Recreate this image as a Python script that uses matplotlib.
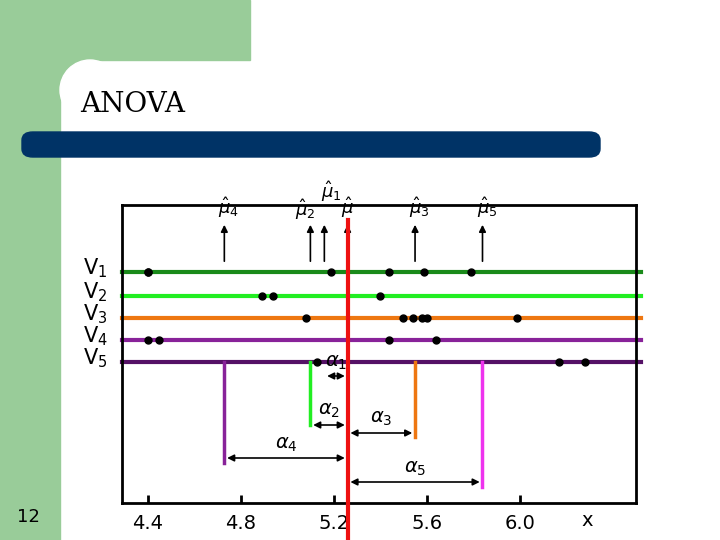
import matplotlib
matplotlib.use("Agg")
import matplotlib.pyplot as plt
from matplotlib.patches import Rectangle, FancyBboxPatch, Ellipse

# data (x values)
v1 = [4.40, 4.40, 5.19, 5.44, 5.59, 5.79]
v2 = [4.89, 4.94, 5.40]
v3 = [5.08, 5.50, 5.54, 5.58, 5.60, 5.99]
v4 = [4.40, 4.45, 5.44, 5.64]
v5 = [5.13, 6.17, 6.28]
mu_grand = 5.26
mu_groups = [5.16, 5.10, 5.55, 5.84, 4.73]  # mu1..mu5
xticks = [4.4, 4.8, 5.2, 5.6, 6.0]
xticklabels = ["4.4", "4.8", "5.2", "5.6", "6.0"]
row_labels = ["V$_1$", "V$_2$", "V$_3$", "V$_4$", "V$_5$"]

W, H = 720, 540
fig = plt.figure(figsize=(7.2, 5.4), dpi=100)
fig.patch.set_facecolor("white")
green = "#99cc99"
fig.patches.append(Rectangle((0, 0), 60 / W, 1, transform=fig.transFigure, color=green, zorder=-3))
fig.patches.append(Rectangle((0, 1 - 60 / H), 250 / W, 60 / H, transform=fig.transFigure, color=green, zorder=-3))
fig.patches.append(Rectangle((60 / W, 1 - 90 / H), 30 / W, 30 / H, transform=fig.transFigure, color=green, zorder=-3))
fig.patches.append(Ellipse((90 / W, 1 - 90 / H), 60 / W, 60 / H, transform=fig.transFigure, color="white", zorder=-2))
fig.patches.append(FancyBboxPatch((22 / W, 1 - 157 / H), 578 / W, 25 / H,
                                  boxstyle="round,pad=0,rounding_size=0.015",
                                  transform=fig.transFigure, color="#003366", zorder=-1))
fig.text(80 / W, 1 - 105 / H, "ANOVA", family="DejaVu Serif", fontsize=20, va="center")
fig.text(28 / W, 1 - 517 / H, "12", fontsize=13, va="center", ha="center")

ax = fig.add_axes([122 / W, 37 / H, 514 / W, 298 / H])
ax.set_zorder(5)
ax.patch.set_alpha(0)
ax.set_xlim(4.29, 6.50)
ax.set_ylim(503, 205)
for s in ax.spines.values():
    s.set_linewidth(2)
ax.set_yticks([])
ax.set_xticks(xticks)
ax.set_xticklabels(xticklabels, fontsize=14)
ax.tick_params(axis="x", length=6, width=2, direction="in", pad=8)
ax.text(6.29, 520, "x", fontsize=14, ha="center", va="center", clip_on=False)

rows_y = [272, 296, 318, 340, 362]
colors = ["#1a8a1a", "#22ee22", "#ee7711", "#882299", "#551166"]
for vals, y, c, lab in zip([v1, v2, v3, v4, v5], rows_y, colors, row_labels):
    ax.plot([4.29, 6.52], [y, y], color=c, lw=3, clip_on=False, zorder=2)
    ax.plot(vals, [y] * len(vals), "o", color="black", ms=5, zorder=3)
    ax.text(4.175, y - 4, lab, fontsize=15, ha="center", va="center", clip_on=False)

ax.plot([mu_grand, mu_grand], [220, 545], color="#ee1111", lw=3, clip_on=False, zorder=4)

# mu arrows at top
mu_all = [mu_grand] + mu_groups
mu_labs = [r"$\hat{\mu}$", r"$\hat{\mu}_1$", r"$\hat{\mu}_2$", r"$\hat{\mu}_3$", r"$\hat{\mu}_5$", r"$\hat{\mu}_4$"]
lab_dx = [0.0, 0.03, -0.02, 0.02, 0.02, 0.02]
lab_y = [208, 192, 210, 208, 208, 208]
for m, l, dx, ly in zip(mu_all, mu_labs, lab_dx, lab_y):
    ax.annotate("", xy=(m, 222), xytext=(m, 264), arrowprops=dict(arrowstyle="-|>", color="black", lw=1.2))
    ax.text(m + dx, ly, l, fontsize=13, ha="center", va="center", clip_on=False)

# alpha effects
ends = [425, 425, 437, 487, 463]
vcols = ["#22ee22", "#22ee22", "#ee7711", "#ee33ee", "#882299"]
arr_y = [376, 425, 433, 482, 458]
alabs = [r"$\alpha_1$", r"$\alpha_2$", r"$\alpha_3$", r"$\alpha_5$", r"$\alpha_4$"]
for i, m in enumerate(mu_groups):
    if i != 0:
        ax.plot([m, m], [362, ends[i]], color=vcols[i], lw=2.5, zorder=2)
    ax.annotate("", xy=(m, arr_y[i]), xytext=(mu_grand, arr_y[i]),
                arrowprops=dict(arrowstyle="<|-|>", color="black", lw=1.2))
    lx = (m + mu_grand) / 2
    ax.text(lx, arr_y[i] - 14, alabs[i], fontsize=14, ha="center", va="center")

fig.savefig("out.png", dpi=100)
